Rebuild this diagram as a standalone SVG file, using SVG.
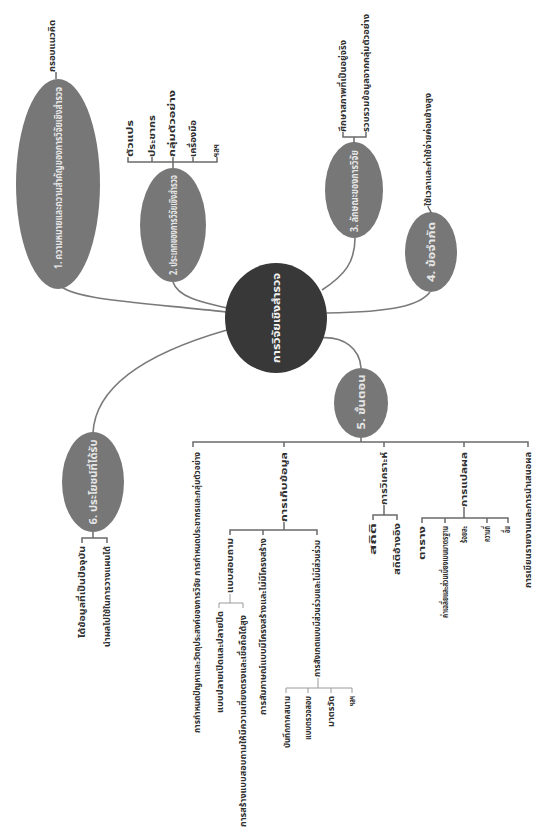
<svg xmlns="http://www.w3.org/2000/svg" width="541" height="832" viewBox="0 0 541 832">
<style>
.bg{fill:#ffffff}
.ctr{fill:#383838}
.el{fill:#777777}
.et{fill:#e6e6e6;font-family:"Noto Sans Thai","Noto Sans","DejaVu Sans",sans-serif;font-size:10px;font-weight:bold}
.ct{fill:#f2f2f2;font-family:"Noto Sans Thai","Noto Sans","DejaVu Sans",sans-serif;font-size:11px;font-weight:bold}
.lt{fill:#2e2e2e;font-family:"Noto Sans Thai","Noto Sans","DejaVu Sans",sans-serif;font-size:9px;font-weight:bold}
.con{fill:none;stroke:#7a7a7a;stroke-width:1.6}
.br{fill:none;stroke:#6a6a6a;stroke-width:1.5}
.brl{fill:none;stroke:#9a9a9a;stroke-width:1}
</style>
<rect class="bg" x="0" y="0" width="541" height="832"/>

<g id="connectors">
<path class="con" d="M58,282 C62,300 150,303 226,312"/>
<path class="con" d="M173,282 C178,298 205,303 227,308"/>
<path class="con" d="M93,433 C95,390 140,355 227,330"/>
<path class="con" d="M355,238 C355,262 345,275 322,290"/>
<path class="con" d="M430,292 C420,305 395,312 327,313"/>
<path class="con" d="M318,338 C345,335 360,350 361,368"/>
</g>

<g id="center">
<ellipse class="ctr" cx="276" cy="318" rx="51" ry="55"/>
<text class="ct" x="280" y="318" text-anchor="middle" transform="rotate(-90 280 318)" textLength="90" lengthAdjust="spacingAndGlyphs">การวิจัยเชิงสำรวจ</text>
</g>

<g id="n1">
<ellipse class="el" cx="58" cy="184" rx="42" ry="105"/>
<text class="et" x="62" y="178" text-anchor="middle" transform="rotate(-90 62 178)" textLength="182" lengthAdjust="spacingAndGlyphs">1. ความหมายและความสำคัญของการวิจัยเชิงสำรวจ</text>
<path class="br" d="M56,79 L56,72"/>
<text class="lt" x="55" y="72" transform="rotate(-90 55 72)" textLength="52" lengthAdjust="spacingAndGlyphs">กรอบแนวคิด</text>
</g>

<g id="n2">
<ellipse class="el" cx="173" cy="225" rx="33" ry="57"/>
<text class="et" x="177" y="225" text-anchor="middle" transform="rotate(-90 177 225)" textLength="100" lengthAdjust="spacingAndGlyphs">2. ประเภทของการวิจัยเชิงสำรวจ</text>
<path class="br" d="M173,168 L173,162 M128,157 L128,162 L217,162 L217,157 M152,162 L152,157 M173,162 L173,157 M193,162 L193,157"/>
<text class="lt" x="133" y="157" transform="rotate(-90 133 157)" textLength="37" lengthAdjust="spacingAndGlyphs">ตัวแปร</text>
<text class="lt" x="155" y="157" transform="rotate(-90 155 157)" textLength="42" lengthAdjust="spacingAndGlyphs">ประชากร</text>
<text class="lt" x="175" y="157" transform="rotate(-90 175 157)" textLength="67" lengthAdjust="spacingAndGlyphs">กลุ่มตัวอย่าง</text>
<text class="lt" x="196" y="157" transform="rotate(-90 196 157)" textLength="37" lengthAdjust="spacingAndGlyphs">เครื่องมือ</text>
<text class="lt" x="219" y="157" transform="rotate(-90 219 157)" textLength="13" lengthAdjust="spacingAndGlyphs">ฯลฯ</text>
</g>

<g id="n3">
<ellipse class="el" cx="354" cy="190" rx="29" ry="48"/>
<text class="et" x="358" y="191" text-anchor="middle" transform="rotate(-90 358 191)" textLength="82" lengthAdjust="spacingAndGlyphs">3. ลักษณะของการวิจัย</text>
<path class="br" d="M354,143 L354,137 M343,132 L343,137 L366,137 L366,132"/>
<text class="lt" x="346" y="132" transform="rotate(-90 346 132)" textLength="92" lengthAdjust="spacingAndGlyphs">ศึกษาสภาพที่เป็นอยู่จริง</text>
<text class="lt" x="369" y="132" transform="rotate(-90 369 132)" textLength="118" lengthAdjust="spacingAndGlyphs">รวบรวมข้อมูลจากกลุ่มตัวอย่าง</text>
</g>

<g id="n4">
<ellipse class="el" cx="431" cy="252" rx="26" ry="40"/>
<text class="et" x="435" y="252" text-anchor="middle" transform="rotate(-90 435 252)" textLength="60" lengthAdjust="spacingAndGlyphs">4. ข้อจำกัด</text>
<path class="br" d="M431,213 C431,210 428,209 428,206"/>
<text class="lt" x="431" y="206" transform="rotate(-90 431 206)" textLength="113" lengthAdjust="spacingAndGlyphs">ใช้เวลาและค่าใช้จ่ายค่อนข้างสูง</text>
</g>

<g id="n5">
<ellipse class="el" cx="361" cy="403" rx="27" ry="35"/>
<text class="et" x="365" y="402" text-anchor="middle" transform="rotate(-90 365 402)" textLength="55" lengthAdjust="spacingAndGlyphs">5. ขั้นตอน</text>
<path class="br" d="M361,438 L361,442 M193,447 L193,442 L528,442 L528,447 M284,442 L284,447 M384,442 L384,447 M464,442 L464,447"/>
</g>

<g id="n5-leaves">
<text class="lt" x="200" y="452" text-anchor="end" transform="rotate(-90 200 452)" textLength="281" lengthAdjust="spacingAndGlyphs">การกำหนดปัญหาและวัตถุประสงค์ของการวิจัย การกำหนดประชากรและกลุ่มตัวอย่าง</text>
<text class="lt" x="287" y="452" text-anchor="end" transform="rotate(-90 287 452)" textLength="70" lengthAdjust="spacingAndGlyphs">การเก็บข้อมูล</text>
<path class="br" d="M284,522 L284,530 M230,535 L230,530 L317,530 L317,535 M263,530 L263,535"/>
<text class="lt" x="233" y="538" text-anchor="end" transform="rotate(-90 233 538)" textLength="55" lengthAdjust="spacingAndGlyphs">แบบสอบถาม</text>
<path class="brl" d="M230,594 L230,603 M219,608 L219,603 L243,603 L243,608"/>
<text class="lt" x="223" y="611" text-anchor="end" transform="rotate(-90 223 611)" textLength="102" lengthAdjust="spacingAndGlyphs">แบบปลายเปิดและปลายปิด</text>
<text class="lt" x="246" y="615" text-anchor="end" transform="rotate(-90 246 615)" textLength="212" lengthAdjust="spacingAndGlyphs">การสร้างแบบสอบถามให้มีความเที่ยงตรงและเชื่อถือได้สูง</text>
<text class="lt" x="266" y="538" text-anchor="end" transform="rotate(-90 266 538)" textLength="177" lengthAdjust="spacingAndGlyphs">การสัมภาษณ์แบบมีโครงสร้างและไม่มีโครงสร้าง</text>
<text class="lt" x="320" y="540" text-anchor="end" transform="rotate(-90 320 540)" textLength="137" lengthAdjust="spacingAndGlyphs">การสังเกตแบบมีส่วนร่วมและไม่มีส่วนร่วม</text>
<path class="brl" d="M318,678 L318,688 M286,693 L286,688 L352,688 L352,693 M308,688 L308,693 M331,688 L331,693"/>
<text class="lt" x="290" y="696" text-anchor="end" transform="rotate(-90 290 696)" textLength="52" lengthAdjust="spacingAndGlyphs">บันทึกภาคสนาม</text>
<text class="lt" x="311" y="696" text-anchor="end" transform="rotate(-90 311 696)" textLength="44" lengthAdjust="spacingAndGlyphs">แบบตรวจสอบ</text>
<text class="lt" x="334" y="696" text-anchor="end" transform="rotate(-90 334 696)" textLength="31" lengthAdjust="spacingAndGlyphs">มาตรวัด</text>
<text class="lt" x="355" y="696" text-anchor="end" transform="rotate(-90 355 696)" textLength="10" lengthAdjust="spacingAndGlyphs">ฯลฯ</text>
<text class="lt" x="387" y="452" text-anchor="end" transform="rotate(-90 387 452)" textLength="53" lengthAdjust="spacingAndGlyphs">การวิเคราะห์</text>
<path class="br" d="M384,505 L384,515 M373,520 L373,515 L397,515 L397,520"/>
<text class="lt" x="376" y="523" text-anchor="end" transform="rotate(-90 376 523)" textLength="32" lengthAdjust="spacingAndGlyphs">สถิติ</text>
<text class="lt" x="400" y="523" text-anchor="end" transform="rotate(-90 400 523)" textLength="52" lengthAdjust="spacingAndGlyphs">สถิติอ้างอิง</text>
<text class="lt" x="467" y="452" text-anchor="end" transform="rotate(-90 467 452)" textLength="55" lengthAdjust="spacingAndGlyphs">การแปลผล</text>
<path class="br" d="M464,507 L464,518 M422,523 L422,518 L508,518 L508,523 M445,518 L445,523 M487,518 L487,523"/>
<text class="lt" x="425" y="526" text-anchor="end" transform="rotate(-90 425 526)" textLength="34" lengthAdjust="spacingAndGlyphs">ตาราง</text>
<text class="lt" x="448" y="526" text-anchor="end" transform="rotate(-90 448 526)" textLength="92" lengthAdjust="spacingAndGlyphs">ค่าเฉลี่ยและส่วนเบี่ยงเบนมาตรฐาน</text>
<text class="lt" x="467" y="526" text-anchor="end" transform="rotate(-90 467 526)" textLength="17" lengthAdjust="spacingAndGlyphs">ร้อยละ</text>
<text class="lt" x="490" y="526" text-anchor="end" transform="rotate(-90 490 526)" textLength="16" lengthAdjust="spacingAndGlyphs">ความถี่</text>
<text class="lt" x="510" y="526" text-anchor="end" transform="rotate(-90 510 526)" textLength="7" lengthAdjust="spacingAndGlyphs">อื่น</text>
<text class="lt" x="531" y="452" text-anchor="end" transform="rotate(-90 531 452)" textLength="136" lengthAdjust="spacingAndGlyphs">การเขียนรายงานและการนำเสนอผล</text>
</g>

<g id="n6">
<ellipse class="el" cx="93" cy="482" rx="31" ry="50"/>
<text class="et" x="97" y="482" text-anchor="middle" transform="rotate(-90 97 482)" textLength="85" lengthAdjust="spacingAndGlyphs">6. ประโยชน์ที่ได้รับ</text>
<path class="br" d="M93,532 L93,538 M82,543 L82,538 L107,538 L107,543"/>
<text class="lt" x="85" y="546" text-anchor="end" transform="rotate(-90 85 546)" textLength="92" lengthAdjust="spacingAndGlyphs">ได้ข้อมูลที่เป็นปัจจุบัน</text>
<text class="lt" x="110" y="546" text-anchor="end" transform="rotate(-90 110 546)" textLength="101" lengthAdjust="spacingAndGlyphs">นำผลไปใช้ในการวางแผนได้</text>
</g>
</svg>
